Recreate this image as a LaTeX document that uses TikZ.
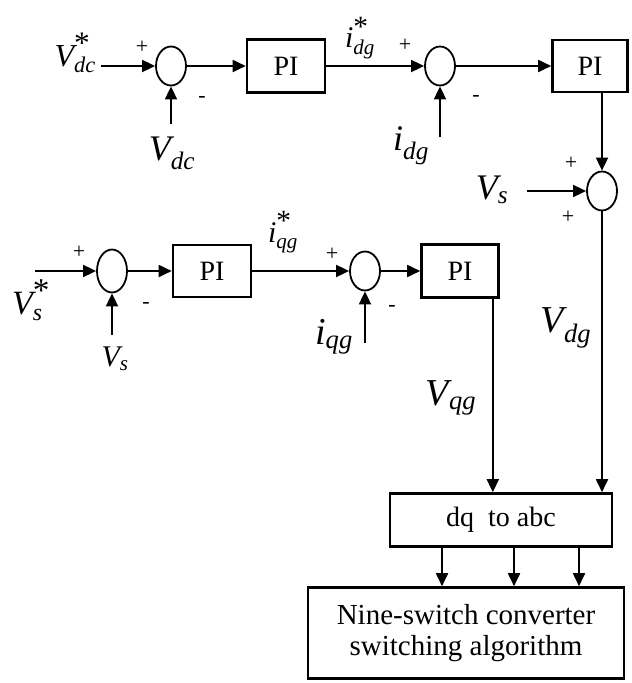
\documentclass[tikz,border=0pt]{standalone}
\usepackage{amsmath}
\usepackage{fontspec}
\setmainfont{Liberation Serif}
\usetikzlibrary{arrows.meta,positioning,shapes.geometric}
\newcommand{\refst}{\text{\scalebox{1.4}{*}}}

\begin{document}
\begin{tikzpicture}[x=1pt,y=-1pt,
    sm/.style={draw,ellipse,line width=1.8pt,minimum width=30pt,minimum height=39pt,inner sep=0pt},
    n/.style={draw,line width=2.6pt,minimum height=53pt,inner sep=2pt,font=\fontsize{28}{32}\selectfont},
    a/.style={-{Triangle[length=13pt,width=12pt]},line width=1.8pt},
    sg/.style={font=\fontsize{22}{22}\selectfont,inner sep=0pt},
    lab/.style={inner sep=0pt,font=\fontsize{#1}{#1}\selectfont}]
    \useasboundingbox (0,0) rectangle (632,683);
    % d axis
    \node[sm] (e1) at (171,66) {};
    \node[n,minimum width=78pt] (pi1) at (286,66) {PI};
    \node[sm] (e2) at (440,66) {};
    \node[n,minimum width=75pt,minimum height=52pt] (pi2) at (590,66) {PI};
    \node[sm] (add) at (602,191) {};
    % q axis
    \node[sm,minimum height=43pt] (e3) at (112,271) {};
    \node[n,minimum width=78pt,minimum height=52pt] (pi3) at (212,271) {PI};
    \node[sm] (e4) at (365,271) {};
    \node[n,minimum width=77pt] (pi4) at (460,271) {PI};
    % output
    \node[n,minimum width=222pt] (conv) at (501,520) {dq\enspace to abc};
    \node[n,minimum width=316pt,minimum height=91pt,align=center,font=\fontsize{29}{31}\selectfont] (nsc) at (466,633) {Nine-switch converter\\switching algorithm};

    \coordinate (vdcin) at (101,66);
    \coordinate (fb1) at (171,124);
    \coordinate (fb2) at (440,137);
    \coordinate (vsin) at (527,191);
    \coordinate (vsin2) at (35,271);
    \coordinate (fb3) at (112,335);
    \coordinate (fb4) at (365,343);

    \node[lab=32,anchor=east] (vdcref) at (96,53) {$\textit{V}^{\refst}_{\textit{dc}}$};
    \node[lab=36] (vdc) at (172,153) {$\textit{V}_{\textit{dc}}$};
    \node[lab=30] (idref) at (360,38) {$\textit{i}^{\refst}_{\textit{dg}}$};
    \node[lab=36] (id) at (411,146) {$\textit{i}_{\textit{dg}}$};
    \node[lab=36] (vs) at (492,190) {$\textit{V}_{\textit{s}}$};
    \node[lab=38] (vdg) at (566,328) {$\textit{V}_{\textit{dg}}$};
    \node[lab=34] (vsref) at (31,300) {$\textit{V}^{\refst}_{\textit{s}}$};
    \node[lab=30] (vs2) at (115,359) {$\textit{V}_{\textit{s}}$};
    \node[lab=30] (iqref) at (283,232) {$\textit{i}^{\refst}_{\textit{qg}}$};
    \node[lab=38] (iq) at (334,337) {$\textit{i}_{\textit{qg}}$};
    \node[lab=38] (vqg) at (451,398) {$\textit{V}_{\textit{qg}}$};

    \node[sg] (plus1) at (142,47) {+};
    \node[sg] (minus1) at (202,99) {-};
    \node[sg] (plus2) at (405,45) {+};
    \node[sg] (minus2) at (476,98) {-};
    \node[sg] (plus3) at (571,163) {+};
    \node[sg] (plus4) at (568,217) {+};
    \node[sg] (plus5) at (79,252) {+};
    \node[sg] (minus5) at (146,305) {-};
    \node[sg] (plus6) at (332,254) {+};
    \node[sg] (minus6) at (392,308) {-};

    \draw[a] (vdcin) -- (e1);
    \draw[a] (fb1) -- (e1);
    \draw[a] (e1) -- (pi1);
    \draw[a] (pi1) -- (e2);
    \draw[a] (fb2) -- (e2);
    \draw[a] (e2) -- (pi2);
    \draw[a] (pi2.south -| add) -- (add);
    \draw[a] (vsin) -- (add);
    \draw[a] (add) -- (add |- conv.north);

    \draw[a] (vsin2) -- (e3);
    \draw[a] (fb3) -- (e3);
    \draw[a] (e3) -- (pi3);
    \draw[a] (pi3) -- (e4);
    \draw[a] (fb4) -- (e4);
    \draw[a] (e4) -- (pi4);
    \draw[a] ([xshift=-7pt]pi4.south east) -- ([xshift=-7pt]pi4.south east |- conv.north);

    \foreach \dx in {-59,13,78}
      \draw[a] ([xshift=\dx pt]conv.south) -- ([xshift=\dx pt]conv.south |- nsc.north);
  \end{tikzpicture}
\end{document}
